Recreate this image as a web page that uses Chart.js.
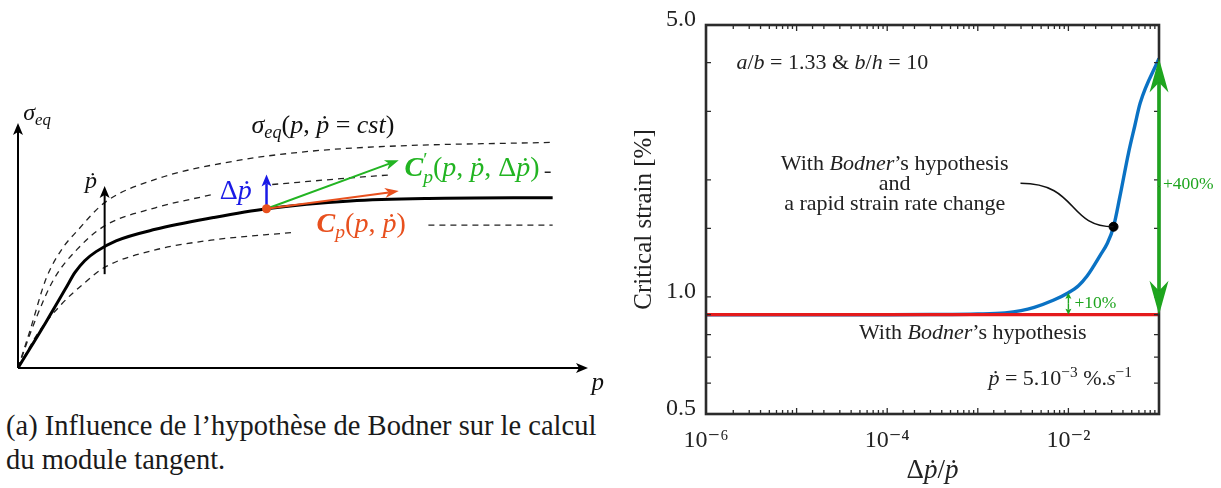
<!DOCTYPE html>
<html>
<head>
<meta charset="utf-8">
<script src="https://cdn.jsdelivr.net/npm/chart.js@4.4.1/dist/chart.umd.min.js"></script>
<style>
  html, body { margin: 0; padding: 0; background: #fff; }
  body { width: 1221px; height: 488px; position: relative; overflow: hidden; font-family: 'Liberation Serif', 'DejaVu Serif', serif; }
  #left { position: absolute; left: 0; top: 0; width: 610px; height: 400px; }
  #right { position: absolute; left: 615px; top: 0; width: 606px; height: 488px; }
  .caption { position: absolute; left: 6px; top: 409px; font-size: 28.5px; line-height: 34px; color: #1a1a1a; white-space: nowrap; }
</style>
</head>
<body>
<div id="left"><canvas id="schemaChart"></canvas></div>
<div id="right"><canvas id="strainChart"></canvas></div>
<div class="caption">(a) Influence de l’hypothèse de Bodner sur le calcul<br>du module tangent.</div>
<script>
const FONT = "'Liberation Serif', 'DejaVu Serif', serif";

// Schéma (a) : courbes sigma_eq(p), unités arbitraires (0-100)
const pSolid = [0, 4.9, 8.3, 10.0, 11.7, 13.7, 17.2, 24.1, 34.3, 43.6, 58.3, 72.0, 93.8];
const sigmaSolid = [0, 18.7, 32.2, 39.0, 43.8, 47.5, 51.9, 56.6, 61.4, 65.0, 68.2, 69.2, 69.5];
const pHigh = [0, 2.2, 4.9, 7.7, 10.4, 15.2, 24.1, 37.8, 51.4, 65.1, 93.8];
const sigmaHigh = [0, 16.0, 36.3, 48.5, 56.0, 67.5, 77.0, 84.4, 88.5, 90.5, 92.1];
const pMid = [0, 2.9, 6.3, 10.4, 15.2, 24.1, 34.3, 35.5, 44.6, 58.3, 65.1, 67.0, 92.4, 94.0];
const sigmaMid = [0, 18.7, 36.3, 48.5, 58.0, 65.4, 70.9, null, 74.9, 77.6, 78.8, null, 79.9, 79.9];
const pLow = [0, 3.6, 7.7, 11.8, 15.2, 24.1, 34.3, 48.0, 50.0, 72.0, 93.8];
const sigmaLow = [0, 14.6, 26.2, 35.0, 41.1, 48.2, 52.3, 55.3, null, 58.3, 58.3];
const pointIndex = 9;          // point de calcul sur la courbe pleine
const rateArrowP = [15.2, 15.2];
const rateArrowSigma = [38.3, 74.3];
const tangentEnd = [66.8, 72.2];    // C_p
const tangentEndNew = [66.8, 84.8]; // C'_p
const jumpEnd = [43.6, 79.0];       // delta p point

// Figure (b) : déformation critique [%] en fonction de delta(p point)/p point
const rateJump = [1e-6, 1e-4, 3e-4, 1e-3, 2e-3, 3e-3, 4.2e-3, 6.8e-3, 1e-2, 1.3e-2, 1.6e-2, 1.9e-2, 2.25e-2, 2.7e-2, 3.15e-2, 3.7e-2, 4.6e-2, 5.4e-2, 6.2e-2, 1e-1];
const strainRapid = [0.9, 0.9, 0.901, 0.904, 0.91, 0.922, 0.94, 0.98, 1.025, 1.07, 1.13, 1.2, 1.28, 1.376, 1.515, 1.81, 2.34, 2.75, 3.15, 4.1];
const rateBodner = [1e-6, 1e-1];
const strainBodner = [0.9, 0.9];
const markIndex = 14;       // point annoté
const gainIndex = [8, 19];  // flèches +10% et +400%
const gainLabels = ['+10%', '+400%'];
const xTickValues = [1e-6, 1e-4, 1e-2];
const xTickLabels = ['10⁻⁶', '10⁻⁴', '10⁻²'];
const yTickValues = [0.5, 1.0, 5.0];
const yTickLabels = ['0.5', '1.0', '5.0'];

function toPoints(xs, ys) {
  return xs.map((x, i) => ({ x: x, y: ys[i] }));
}

// Texte riche : [texte, style] avec i=italique, b=gras, _=indice, ^=exposant, k=sans avance
function runFont(style, size) {
  const s = (style.includes('_') || style.includes('^')) ? size * 0.7 : size;
  return (style.includes('i') ? 'italic ' : '') + (style.includes('b') ? 'bold ' : '') + s + 'px ' + FONT;
}
function drawRich(ctx, runs, x, y, size, align, color) {
  ctx.save();
  ctx.fillStyle = color;
  ctx.textBaseline = 'alphabetic';
  ctx.textAlign = 'left';
  let total = 0;
  runs.forEach(r => {
    ctx.font = runFont(r[1], size);
    if (!r[1].includes('k')) total += ctx.measureText(r[0]).width;
  });
  let cx = align === 'center' ? x - total / 2 : (align === 'right' ? x - total : x);
  runs.forEach(r => {
    ctx.font = runFont(r[1], size);
    const dy = r[1].includes('_') ? size * 0.22 : (r[1].includes('^') ? -size * 0.38 : 0);
    ctx.fillText(r[0], cx, y + size * 0.33 + dy);
    if (!r[1].includes('k')) cx += ctx.measureText(r[0]).width;
  });
  ctx.restore();
}

function drawArrow(ctx, x1, y1, x2, y2, color, width, headLen, headHalf, notch) {
  const ang = Math.atan2(y2 - y1, x2 - x1);
  const c = Math.cos(ang), s = Math.sin(ang);
  ctx.save();
  ctx.strokeStyle = color;
  ctx.fillStyle = color;
  ctx.lineWidth = width;
  ctx.beginPath();
  ctx.moveTo(x1, y1);
  ctx.lineTo(x2 - c * (headLen - notch), y2 - s * (headLen - notch));
  ctx.stroke();
  const bx = x2 - c * headLen, by = y2 - s * headLen;
  ctx.beginPath();
  ctx.moveTo(x2, y2);
  ctx.lineTo(bx - s * headHalf, by + c * headHalf);
  ctx.lineTo(x2 - c * (headLen - notch), y2 - s * (headLen - notch));
  ctx.lineTo(bx + s * headHalf, by - c * headHalf);
  ctx.closePath();
  ctx.fill();
  ctx.restore();
}

// ---------- (a) schéma ----------
const schemaLabels = [
  { runs: [['σ', 'i'], ['eq', 'i_']], p: 0.9, s: 104.5, size: 24, align: 'left', color: '#111' },
  { runs: [['σ', 'i'], ['eq', 'i_'], ['(', ''], ['p', 'i'], [', ', ''], ['ṗ', 'i'], [' = ', ''], ['cst', 'i'], [')', '']], p: 53.5, s: 99.6, size: 26, align: 'center', color: '#111' },
  { runs: [['ṗ', 'i']], p: 12.8, s: 76.5, size: 24, align: 'center', color: '#111' },
  { runs: [['Δ', ''], ['ṗ', 'i']], p: 38.2, s: 72.7, size: 28, align: 'center', color: '#1a1ae6' },
  { runs: [['C', 'bi'], ['′', '^k'], ['p', 'i_'], ['(', ''], ['p', 'i'], [', ', ''], ['ṗ', 'i'], [', Δ', ''], ['ṗ', 'i'], [')', '']], p: 67.8, s: 82.0, size: 28, align: 'left', color: '#22b422' },
  { runs: [['C', 'bi'], ['p', 'i_'], ['(', ''], ['p', 'i'], [', ', ''], ['ṗ', 'i'], [')', '']], p: 60.2, s: 59.2, size: 28, align: 'center', color: '#e8501e' },
  { runs: [['p', 'i']], p: 101.7, s: -5.7, size: 25, align: 'center', color: '#111' }
];

const schemaPlugin = {
  id: 'schema',
  afterDatasetsDraw(chart) {
    const { ctx, scales: { x, y } } = chart;
    const px = v => x.getPixelForValue(v), py = v => y.getPixelForValue(v);
    // axes
    drawArrow(ctx, px(0), py(0), px(100), py(0), '#000', 2, 12, 5, 3);
    drawArrow(ctx, px(0), py(0), px(0), py(100), '#000', 2, 12, 5, 3);
    drawArrow(ctx, px(rateArrowP[0]), py(rateArrowSigma[0]), px(rateArrowP[1]), py(rateArrowSigma[1]), '#000', 2, 12, 5, 3);
    const p0 = pSolid[pointIndex], s0 = sigmaSolid[pointIndex];
    drawArrow(ctx, px(p0), py(s0), px(tangentEndNew[0]), py(tangentEndNew[1]), '#22b422', 2, 14, 5, 4);
    drawArrow(ctx, px(p0), py(s0), px(tangentEnd[0]), py(tangentEnd[1]), '#e8501e', 2, 14, 5, 4);
    drawArrow(ctx, px(p0), py(s0), px(jumpEnd[0]), py(jumpEnd[1]), '#1a1ae6', 2.5, 12, 5, 3);
    ctx.save();
    ctx.fillStyle = '#e8501e';
    ctx.beginPath();
    ctx.arc(px(p0), py(s0), 4.5, 0, Math.PI * 2);
    ctx.fill();
    ctx.restore();
    schemaLabels.forEach(l => drawRich(ctx, l.runs, px(l.p), py(l.s), l.size, l.align, l.color));
  }
};

const dashedStyle = { borderColor: '#222', borderWidth: 1.3, borderDash: [6, 5], pointRadius: 0, showLine: true, fill: false, cubicInterpolationMode: 'monotone', spanGaps: false };

new Chart(document.getElementById('schemaChart'), {
  type: 'scatter',
  data: {
    datasets: [
      { data: toPoints(pSolid, sigmaSolid), borderColor: '#000', borderWidth: 3, pointRadius: 0, showLine: true, cubicInterpolationMode: 'monotone' },
      Object.assign({ data: toPoints(pHigh, sigmaHigh) }, dashedStyle),
      Object.assign({ data: toPoints(pMid, sigmaMid) }, dashedStyle),
      Object.assign({ data: toPoints(pLow, sigmaLow) }, dashedStyle)
    ]
  },
  options: {
    responsive: true,
    maintainAspectRatio: false,
    animation: false,
    layout: { padding: { left: 18, right: 22, top: 123, bottom: 32 } },
    plugins: { legend: { display: false }, tooltip: { enabled: false } },
    scales: {
      x: { type: 'linear', display: false, min: 0, max: 100 },
      y: { type: 'linear', display: false, min: 0, max: 100 }
    }
  },
  plugins: [schemaPlugin]
});

// ---------- (b) déformation critique ----------
function isDecade(v) {
  const l = Math.log10(v);
  return Math.abs(l - Math.round(l)) < 1e-6;
}

const strainPlugin = {
  id: 'cadre',
  afterDraw(chart) {
    const { ctx, chartArea: a, scales: { x, y } } = chart;
    const px = v => x.getPixelForValue(v), py = v => y.getPixelForValue(v);
    ctx.save();
    ctx.strokeStyle = '#2b2b2b';
    ctx.lineWidth = 1.3;
    ctx.beginPath();
    x.minorTicks.forEach(v => {
      const X = px(v), len = isDecade(v) ? 6 : 4;
      ctx.moveTo(X, a.bottom); ctx.lineTo(X, a.bottom - len);
      ctx.moveTo(X, a.top); ctx.lineTo(X, a.top + len);
    });
    y.minorTicks.forEach(v => {
      const Y = py(v);
      ctx.moveTo(a.left, Y); ctx.lineTo(a.left + 5, Y);
      ctx.moveTo(a.right, Y); ctx.lineTo(a.right - 5, Y);
    });
    ctx.stroke();
    ctx.lineWidth = 2.6;
    ctx.strokeRect(a.left, a.top, a.right - a.left, a.bottom - a.top);
    ctx.restore();

    // titre de l'axe x
    drawRich(ctx, [['Δ', ''], ['ṗ', 'i'], ['/', ''], ['ṗ', 'i']], (a.left + a.right) / 2, 469, 27, 'center', '#222');

    // flèches de gain
    gainIndex.forEach((idx, k) => {
      const X = px(rateJump[idx]);
      const y0 = py(strainBodner[0]), y1 = py(strainRapid[idx]);
      const mid = (y0 + y1) / 2;
      if (k === 0) {
        drawArrow(ctx, X, mid, X, y1, '#1ea51e', 1.4, 6, 3, 1);
        drawArrow(ctx, X, mid, X, y0, '#1ea51e', 1.4, 6, 3, 1);
      } else {
        drawArrow(ctx, X, mid, X, y1, '#1ea51e', 3.5, 34, 9.5, 10);
        drawArrow(ctx, X, mid, X, y0, '#1ea51e', 3.5, 34, 9.5, 10);
      }
    });
    drawRich(ctx, [[gainLabels[0], '']], px(rateJump[gainIndex[0]]) + 6, py(0.97), 17.5, 'left', '#1ea51e');
    drawRich(ctx, [[gainLabels[1], '']], px(rateJump[gainIndex[1]]) + 4, py(1.96), 17.5, 'left', '#1ea51e');

    // annotations
    drawRich(ctx, [['a', 'i'], ['/', ''], ['b', 'i'], [' = 1.33 & ', ''], ['b', 'i'], ['/', ''], ['h', 'i'], [' = 10', '']], px(2.17e-6), py(4.02), 22, 'left', '#222');
    const cx = px(1.21e-4), cy = py(1.96);
    drawRich(ctx, [['With ', ''], ['Bodner', 'i'], ['’s hypothesis', '']], cx, cy - 20, 22, 'center', '#222');
    drawRich(ctx, [['and', '']], cx, cy, 22, 'center', '#222');
    drawRich(ctx, [['a rapid strain rate change', '']], cx, cy + 20, 22, 'center', '#222');
    drawRich(ctx, [['With ', ''], ['Bodner', 'i'], ['’s hypothesis', '']], px(8.8e-4), py(0.813), 22, 'center', '#222');
    drawRich(ctx, [['ṗ', 'i'], [' = 5.10', ''], ['−3', '^'], [' %.', ''], ['s', 'i'], ['−1', '^']], px(1.31e-3), py(0.619), 22, 'left', '#222');

    // liaison vers le point annoté
    const sx = px(2.96e-3), sy = py(1.96);
    const ex = px(rateJump[markIndex]), ey = py(strainRapid[markIndex]);
    const d = ex - sx;
    ctx.save();
    ctx.strokeStyle = '#111';
    ctx.lineWidth = 1.6;
    ctx.beginPath();
    ctx.moveTo(sx, sy);
    ctx.bezierCurveTo(sx + 0.62 * d, sy, sx + 0.5 * d, ey, ex, ey);
    ctx.stroke();
    ctx.restore();
  }
};

new Chart(document.getElementById('strainChart'), {
  type: 'scatter',
  data: {
    datasets: [
      { data: [{ x: rateJump[markIndex], y: strainRapid[markIndex] }], pointRadius: 4.5, pointBackgroundColor: '#000', pointBorderColor: '#000', showLine: false },
      { data: toPoints(rateBodner, strainBodner), borderColor: '#e41a1c', borderWidth: 3.2, pointRadius: 0, showLine: true },
      { data: toPoints(rateJump, strainRapid), borderColor: '#0a72c4', borderWidth: 3.4, pointRadius: 0, showLine: true, cubicInterpolationMode: 'monotone' }
    ]
  },
  options: {
    responsive: true,
    maintainAspectRatio: false,
    animation: false,
    layout: { padding: { left: 0, right: 62, top: 25, bottom: 0 } },
    plugins: { legend: { display: false }, tooltip: { enabled: false } },
    scales: {
      x: {
        type: 'logarithmic', min: 1e-6, max: 1e-1,
        grid: { display: false, drawTicks: false },
        border: { display: false },
        ticks: { padding: 12, color: '#222', autoSkip: false, maxRotation: 0, minRotation: 0, font: { family: FONT, size: 24 }, callback: (v, i) => xTickLabels[i] },
        afterBuildTicks: s => {
          s.minorTicks = s.ticks.map(t => t.value);
          s.ticks = xTickValues.map(v => ({ value: v, major: true }));
        },
        afterFit: s => { s.height = 74; }
      },
      y: {
        type: 'logarithmic', min: 0.5, max: 5,
        grid: { display: false, drawTicks: false },
        border: { display: false },
        title: { display: true, text: 'Critical strain [%]', color: '#222', font: { family: FONT, size: 25 }, padding: { top: 14, bottom: 0 } },
        ticks: { padding: 10, labelOffset: -5, color: '#222', autoSkip: false, font: { family: FONT, size: 24 }, callback: (v, i) => yTickLabels[i] },
        afterBuildTicks: s => {
          s.minorTicks = s.ticks.map(t => t.value);
          s.ticks = yTickValues.map(v => ({ value: v, major: true }));
        },
        afterFit: s => { s.width = 91; }
      }
    }
  },
  plugins: [strainPlugin]
});
</script>
</body>
</html>
